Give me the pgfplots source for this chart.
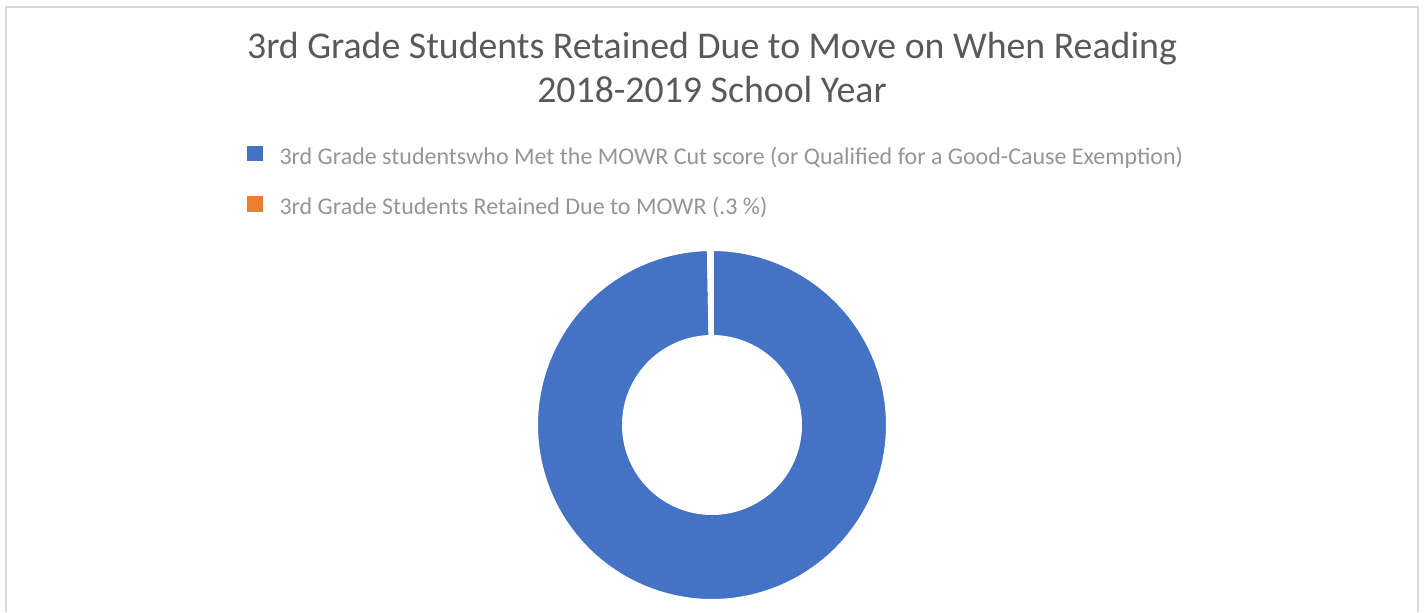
\documentclass[border=0pt]{standalone}
\usepackage{pgfplots}
\pgfplotsset{compat=1.18}
\usepackage{pgfplotstable}
\usepackage{fontspec}
\setmainfont{Carlito}
\definecolor{sliceblue}{HTML}{4472C4}
\definecolor{sliceorange}{HTML}{ED7D31}
\definecolor{titlegray}{HTML}{595959}
\definecolor{legendgray}{HTML}{959595}
\definecolor{framegray}{HTML}{D9D9D9}

\pgfplotstableread{
share
99.7
0.3
}\donutdata
\pgfplotstablegetelem{0}{share}\of\donutdata \let\shareA\pgfplotsretval
\pgfplotstablegetelem{1}{share}\of\donutdata \let\shareB\pgfplotsretval
\pgfmathsetmacro\aA{90}
\pgfmathsetmacro\bA{90-3.6*\shareA}
\pgfmathsetmacro\bB{\bA-3.6*\shareB}
\def\cx{712}\def\cy{425}
\def\Ro{175.75}\def\Ri{88.25}
\newcommand\ringslice[3]{%
  \addplot[fill=#3, draw=white, line width=1.75pt, variable=\t, domain=0:3, samples=601, line join=miter]
  ({\cx + (\t<1 ? \Ro : (\t<2 ? \Ro+(\Ri-\Ro)*(\t-1) : \Ri)) * cos(\t<1 ? #1+(#2-#1)*\t : (\t<2 ? #2 : #2+(#1-#2)*(\t-2)))},
   {\cy - (\t<1 ? \Ro : (\t<2 ? \Ro+(\Ri-\Ro)*(\t-1) : \Ri)) * sin(\t<1 ? #1+(#2-#1)*\t : (\t<2 ? #2 : #2+(#1-#2)*(\t-2)))}) -- cycle;%
}

\begin{document}%
\begin{tikzpicture}
\begin{axis}[
  width=713pt, height=306pt, scale only axis,
  xmin=0, xmax=1426, ymin=0, ymax=612, y dir=reverse,
  hide axis, clip=false,
  legend style={at={(axis cs:247,146)}, anchor=north west, draw=none, fill=none,
    font=\fontsize{12}{14}\selectfont, text=legendgray, row sep=14pt,
    inner sep=0pt, outer sep=0pt,
    nodes={inner sep=0pt, text height=8pt, text depth=2pt}},
  legend cell align=left,
  legend image code/.code={\fill[#1, draw=none] (0pt,-1.5pt) rectangle (7.75pt,6.25pt);},
]
\path (axis cs:0,0) (axis cs:1426,612);
\ringslice{\aA}{\bA}{sliceblue}
\addlegendentry{\hspace{8.5pt}3rd Grade studentswho Met the MOWR Cut score (or Qualified for a Good-Cause Exemption)}
\ringslice{\bA}{\bB}{sliceorange}
\addlegendentry{\hspace{8.5pt}3rd Grade Students Retained Due to MOWR (.3 \%)}
\draw[framegray, line width=1pt] (axis cs:6,612) -- (axis cs:6,7) -- (axis cs:1418,7) -- (axis cs:1418,612);
\node[anchor=base, text=titlegray, font=\fontsize{18.9}{22}\selectfont, inner sep=0pt] at (axis cs:712,59) {3rd Grade Students Retained Due to Move on When Reading};
\node[anchor=base, text=titlegray, font=\fontsize{18.9}{22}\selectfont, inner sep=0pt] at (axis cs:712,103) {2018-2019 School Year};
\end{axis}
\end{tikzpicture}%
\end{document}
